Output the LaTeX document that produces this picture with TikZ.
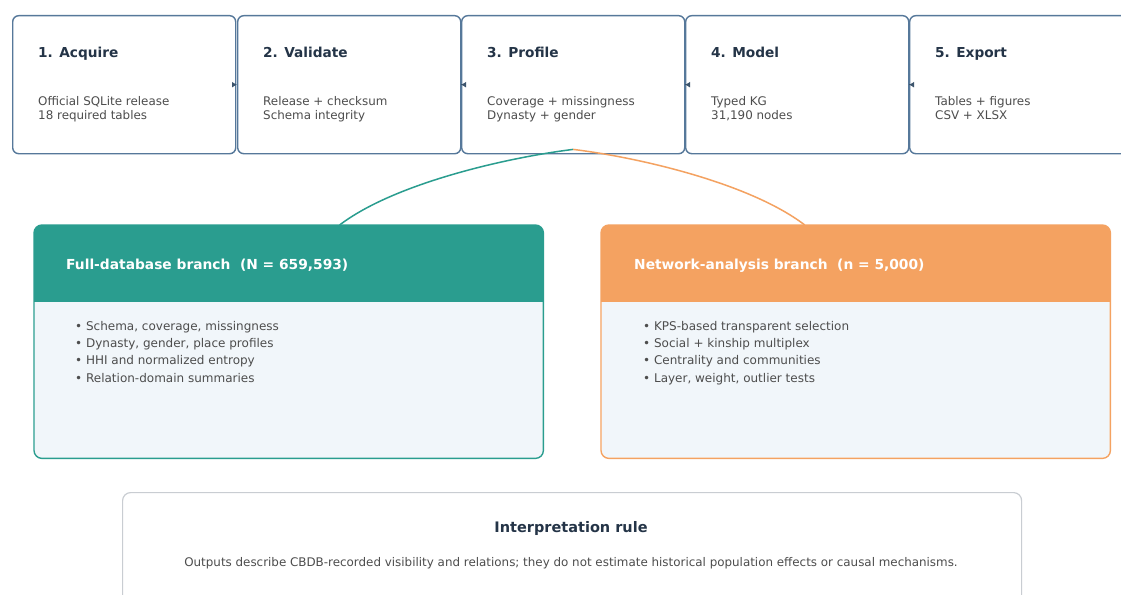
\documentclass[tikz,border=0pt]{standalone}
\usepackage{fontspec}
\setmainfont{DejaVu Sans}
\usetikzlibrary{arrows.meta,calc}
\definecolor{navy}{HTML}{243447}
\definecolor{bodytxt}{HTML}{4D4D4D}
\definecolor{stageblue}{HTML}{56789A}
\definecolor{tealc}{HTML}{2A9D8F}
\definecolor{orangec}{HTML}{F4A261}
\definecolor{bodyfill}{HTML}{F1F6FA}
\definecolor{interpline}{HTML}{C9CDD2}
\begin{document}
\begin{tikzpicture}[x=1pt,y=-1pt,
  stage/.style={draw=stageblue, line width=1.4pt, rounded corners=6pt, fill=white,
    minimum width=223pt, minimum height=138pt, inner sep=0pt, anchor=north west},
  stitle/.style={font=\fontsize{13.7}{16}\selectfont\bfseries, text=navy, inner sep=0pt, anchor=base west},
  sbody/.style={font=\fontsize{11.9}{14}\selectfont, text=bodytxt, inner sep=0pt, anchor=base west},
  flow/.style={draw=stageblue!70!black, line width=1pt, -{Latex[length=5pt,width=6pt]}},
  branchbox/.style={line width=1.4pt, rounded corners=8pt, fill=bodyfill,
    minimum width=508pt, minimum height=232pt, inner sep=0pt, anchor=north west},
  btitle/.style={font=\fontsize{13.8}{16}\selectfont\bfseries, text=white, inner sep=0pt, anchor=base west},
  bullet/.style={font=\fontsize{12}{14}\selectfont, text=bodytxt, inner sep=0pt, anchor=base west},
  link/.style={line width=1.5pt}
]
\useasboundingbox[fill=white] (0,0) rectangle (1121,594);
\clip (0,0) rectangle (1121,594);

% pipeline stages
\node[stage] (s1) at (12,15) {};
\node[stage] (s2) at (237,15) {};
\node[stage] (s3) at (461,15) {};
\node[stage] (s4) at (685,15) {};
\node[stage] (s5) at (909,15) {};

\node[stitle] (t1) at (38,58) {1. Acquire};
\node[sbody] (b1a) at (38,105) {Official SQLite release};
\node[sbody] (b1b) at (38,119) {18 required tables};

\node[stitle] (t2) at (263,58) {2. Validate};
\node[sbody] (b2a) at (263,105) {Release + checksum};
\node[sbody] (b2b) at (263,119) {Schema integrity};

\node[stitle] (t3) at (487,58) {3. Profile};
\node[sbody] (b3a) at (487,105) {Coverage + missingness};
\node[sbody] (b3b) at (487,119) {Dynasty + gender};

\node[stitle] (t4) at (711,58) {4. Model};
\node[sbody] (b4a) at (711,105) {Typed KG};
\node[sbody] (b4b) at (711,119) {31,190 nodes};

\node[stitle] (t5) at (935,58) {5. Export};
\node[sbody] (b5a) at (935,105) {Tables + figures};
\node[sbody] (b5b) at (935,119) {CSV + XLSX};

\draw[flow] (s1.east) -- (s2.west);
\draw[flow] (s2.east) -- (s3.west);
\draw[flow] (s3.east) -- (s4.west);
\draw[flow] (s4.east) -- (s5.west);

% branch boxes
\node[branchbox] (full) at (34,225) {};
\node[branchbox] (net) at (601,225) {};
\begin{scope}
  \clip[rounded corners=8pt] (full.north west) rectangle (full.south east);
  \fill[tealc] (full.north west) rectangle ($(full.north east)+(0,77)$);
\end{scope}
\begin{scope}
  \clip[rounded corners=8pt] (net.north west) rectangle (net.south east);
  \fill[orangec] (net.north west) rectangle ($(net.north east)+(0,77)$);
\end{scope}
\draw[tealc, line width=1.4pt, rounded corners=8pt] (full.north west) rectangle (full.south east);
\draw[orangec, line width=1.4pt, rounded corners=8pt] (net.north west) rectangle (net.south east);

\node[btitle] (ft) at (66,269) {Full-database branch\ \ (N = 659,593)};
\node[bullet] (f1) at (75,330) {• Schema, coverage, missingness};
\node[bullet] (f2) at (75,347) {• Dynasty, gender, place profiles};
\node[bullet] (f3) at (75,364) {• HHI and normalized entropy};
\node[bullet] (f4) at (75,382) {• Relation-domain summaries};

\node[btitle] (nt) at (634,269) {Network-analysis branch\ \ (n = 5,000)};
\node[bullet] (n1) at (643,330) {• KPS-based transparent selection};
\node[bullet] (n2) at (643,347) {• Social + kinship multiplex};
\node[bullet] (n3) at (643,364) {• Centrality and communities};
\node[bullet] (n4) at (643,382) {• Layer, weight, outlier tests};

% links from Profile
\coordinate (src) at ($(s3.south)+(0,-5)$);
\coordinate (fa) at ($(full.north west)!0.6!(full.north east)$);
\coordinate (na) at ($(net.north west)!0.4!(net.north east)$);
\draw[link, tealc] (src) .. controls +(-65,8) and +(55,-42) .. (fa);
\draw[link, orangec] (src) .. controls +(65,8) and +(-55,-42) .. (na);

% interpretation rule
\node[draw=interpline, line width=1.2pt, fill=white, rounded corners=8pt,
  minimum width=899pt, minimum height=130pt, inner sep=0pt, anchor=north west] (interp) at (122,492) {};
\node[font=\fontsize{14.5}{17}\selectfont\bfseries, text=navy, inner sep=0pt, anchor=base] (it) at (571,532) {Interpretation rule};
\node[font=\fontsize{11.9}{14}\selectfont, text=bodytxt, inner sep=0pt, anchor=base] (ib) at (571,566) {Outputs describe CBDB-recorded visibility and relations; they do not estimate historical population effects or causal mechanisms.};
\end{tikzpicture}
\end{document}
